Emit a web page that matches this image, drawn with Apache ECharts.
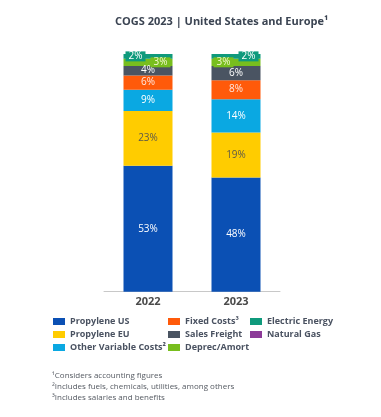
<!DOCTYPE html>
<html><head><meta charset="utf-8">
<script src="https://cdn.jsdelivr.net/npm/echarts@6/dist/echarts.min.js"></script>
<style>html,body{margin:0;padding:0;background:#fff}#c{width:381px;height:417px}</style>
</head><body><div id="c"></div>
<script>
const categories = ['2022', '2023'];
const propyleneUS = [53, 48];
const propyleneEU = [23, 19];
const otherVariable = [9, 14];
const fixedCosts = [6, 8];
const salesFreight = [4, 6];
const deprecAmort = [3, 3];
const electricEnergy = [2, 2];
const naturalGas = [null, null];
const titleText = 'COGS 2023 | United States and Europe\u00b9';
const footnotes = ['\u00b9Considers accounting figures', '\u00b2Includes fuels, chemicals, utilities, among others', '\u00b3Includes salaries and benefits'];

const FONT = 'Open Sans';
const fmt = p => (p.value ? p.value + '%' : '');
function mk(name, data, color, labelColor, extra) {
  return {
    name, type: 'bar', stack: 'a', barWidth: 49, data, itemStyle: { color },
    label: { show: true, position: 'inside', color: labelColor, fontSize: 10, fontFamily: FONT, formatter: fmt, ...(extra || {}) },
    emphasis: { disabled: true }
  };
}
const smallLbl = (bg, pos, color) => ({ position: pos, distance: 2, backgroundColor: bg, padding: [1, 3, 0, 3], color, lineHeight: 9 });
const legTxt = { fontSize: 9, fontWeight: 'bold', color: '#4a5261', fontFamily: FONT, lineHeight: 13 };
const chart = echarts.init(document.getElementById('c'));
chart.setOption({
  animation: false,
  title: { text: titleText, left: 110, top: 11, textStyle: { fontSize: 11, fontWeight: 'bold', color: '#3b4452', fontFamily: FONT } },
  grid: { left: 104, right: 101, top: 54, bottom: 125.3 },
  xAxis: { type: 'category', data: categories, axisTick: { show: false },
    axisLine: { lineStyle: { color: '#c8c8c8' } },
    axisLabel: { fontSize: 11, fontWeight: 'bold', color: '#4a4a4a', fontFamily: FONT, margin: 5 } },
  yAxis: { type: 'value', min: 0, max: 100, show: false },
  legend: [
    { left: 48, top: 310, orient: 'vertical', itemWidth: 12, itemHeight: 7, itemGap: 0, icon: 'rect',
      data: ['Propylene US', 'Propylene EU', 'Other Variable Costs\u00b2'], textStyle: legTxt },
    { left: 163, top: 310, orient: 'vertical', itemWidth: 12, itemHeight: 7, itemGap: 0, icon: 'rect',
      data: ['Fixed Costs\u00b3', 'Sales Freight', 'Deprec/Amort'], textStyle: legTxt },
    { left: 245, top: 310, orient: 'vertical', itemWidth: 12, itemHeight: 7, itemGap: 0, icon: 'rect',
      data: ['Electric Energy', 'Natural Gas'], textStyle: legTxt }
  ],
  graphic: footnotes.map((t, i) => ({ type: 'text', left: 52, top: 372 + i * 11,
    style: { text: t, fontSize: 8, fill: '#555a62', fontFamily: FONT } })),
  series: [
    mk('Propylene US', propyleneUS, '#0b50b4', '#ffffff'),
    mk('Propylene EU', propyleneEU, '#ffcc00', '#5f5a48'),
    mk('Other Variable Costs\u00b2', otherVariable, '#0aa8e2', '#ffffff'),
    mk('Fixed Costs\u00b3', fixedCosts, '#ff5a0a', '#ffe8e0'),
    mk('Sales Freight', salesFreight, '#4a5462', '#ffffff'),
    mk('Deprec/Amort', deprecAmort.map((v, i) => ({ value: v, label: smallLbl('#78be1e', i === 0 ? 'insideRight' : 'insideLeft', '#f3f8cf') })), '#78be1e', '#f3f8cf'),
    mk('Electric Energy', electricEnergy.map((v, i) => ({ value: v, label: smallLbl('#0f9a7c', i === 0 ? 'insideLeft' : 'insideRight', '#ffffff') })), '#0f9a7c', '#ffffff'),
    mk('Natural Gas', naturalGas, '#8c3a98', '#ffffff')
  ]
});
</script></body></html>
